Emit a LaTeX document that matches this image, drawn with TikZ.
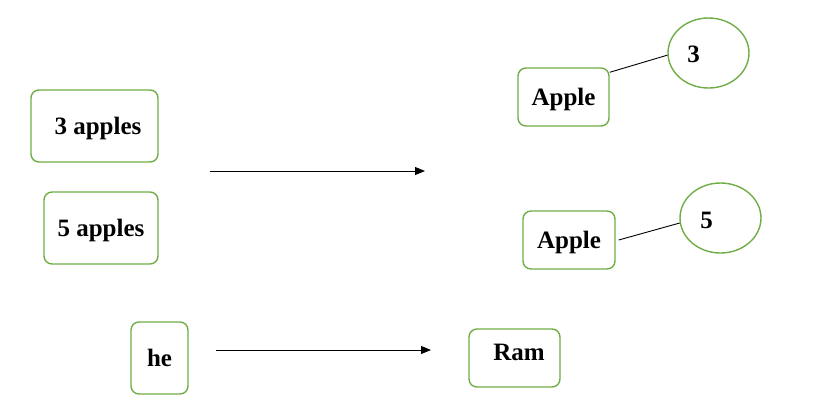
\documentclass[tikz,border=0pt]{standalone}
\usepackage{fontspec}
\setmainfont{Liberation Serif}
\usetikzlibrary{arrows.meta,calc,shapes.geometric}

\begin{document}
\begin{tikzpicture}[
    x=1pt, y=-1pt,
    font=\fontsize{25}{29}\selectfont\bfseries,
    wordbox/.style={draw=boxgreen, line width=1.4pt, rounded corners=8pt,
                    inner sep=0pt, align=center, text height=17pt, text depth=0pt},
    numoval/.style={draw=boxgreen, line width=1.4pt, ellipse, inner sep=0pt,
                    minimum width=81pt, minimum height=70pt},
    link/.style={line width=0.9pt},
    arrow/.style={line width=0.9pt, arrows={-Triangle[length=10pt,width=8pt]}}
]
\definecolor{boxgreen}{HTML}{70AD47}
\useasboundingbox (0,0) rectangle (833,400);

% 1) Left words
\node[wordbox, minimum width=127pt, minimum height=72pt] (three) at (94.5,126) {\hspace*{7pt}3 apples};
\node[wordbox, minimum width=114pt, minimum height=72pt] (five) at (101,228) {5 apples};

% 2) Arrow to the right
\coordinate (a1) at (210,171);
\coordinate (a2) at (425,171);
\draw[arrow] (a1) -- (a2);

% 3) Apple with 3
\node[wordbox, minimum width=91pt, minimum height=58pt] (app1) at (563.5,97) {Apple};
\node[numoval] (c3) at (708.5,53) {};
\node[xshift=-15pt, yshift=-1pt] (n3) at (c3) {3};
\draw[link] ($(app1.north east)+(0,5)$) -- (c3.183);

% 4) Apple with 5
\node[wordbox, minimum width=92pt, minimum height=58pt] (app2) at (569,240) {Apple};
\node[numoval] (c5) at (720.5,218) {};
\node[xshift=-14pt, yshift=-2pt] (n5) at (c5) {5};
\draw[link] ($(app2.east)+(3,0)$) -- (c5.187);

% 5) he -> Ram
\node[wordbox, minimum width=57pt, minimum height=72pt] (he) at (159.5,358) {he};
\coordinate (b1) at (216,350);
\coordinate (b2) at (431,350);
\draw[arrow] (b1) -- (b2);
\node[wordbox, minimum width=91pt, minimum height=58pt] (ram) at (514.5,358) {\raisebox{6pt}{\hspace*{9pt}Ram}};

\end{tikzpicture}
\end{document}
